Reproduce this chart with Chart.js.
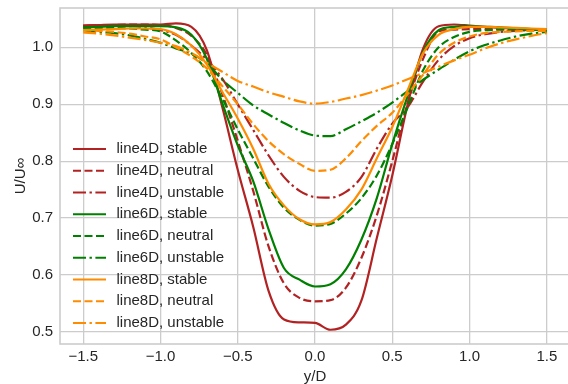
<!DOCTYPE html>
<html>
<head>
<meta charset="utf-8">
<script src="https://cdn.jsdelivr.net/npm/chart.js@4.4.1/dist/chart.umd.min.js"></script>
<style>
  html, body { margin: 0; padding: 0; background: #fff; }
  #wrap { width: 568px; height: 384px; overflow: hidden; }
</style>
</head>
<body>
<div id="wrap"><canvas id="canvas" width="572" height="384"></canvas></div>
<script>
// y/D positions of the profile points
const yD = [-1.5, -1.4, -1.3, -1.2, -1.1, -1.0, -0.9, -0.8, -0.7, -0.6, -0.5, -0.4, -0.3, -0.2, -0.1, 0,
  0.1, 0.2, 0.3, 0.4, 0.5, 0.6, 0.7, 0.8, 0.9, 1.0, 1.1, 1.2, 1.3, 1.4, 1.5];

// U/U_inf
const stable4D = [1.038, 1.039, 1.040, 1.040, 1.040, 1.040, 1.042, 1.036, 0.995, 0.895, 0.785, 0.685, 0.572, 0.522, 0.517, 0.516,
  0.504, 0.513, 0.555, 0.665, 0.775, 0.900, 0.998, 1.037, 1.040, 1.038, 1.036, 1.034, 1.033, 1.032, 1.031];
const neutral4D = [1.037, 1.038, 1.039, 1.040, 1.040, 1.039, 1.034, 1.020, 0.987, 0.918, 0.836, 0.748, 0.650, 0.585, 0.560, 0.554,
  0.556, 0.578, 0.630, 0.705, 0.800, 0.903, 0.980, 1.028, 1.031, 1.032, 1.032, 1.032, 1.032, 1.031, 1.031];
const unstable4D = [1.038, 1.039, 1.039, 1.038, 1.035, 1.030, 1.022, 1.003, 0.978, 0.945, 0.900, 0.855, 0.810, 0.772, 0.748, 0.737,
  0.736, 0.746, 0.772, 0.822, 0.866, 0.895, 0.940, 0.978, 1.002, 1.016, 1.023, 1.027, 1.029, 1.030, 1.031];
const stable6D = [1.035, 1.036, 1.037, 1.037, 1.037, 1.037, 1.035, 1.022, 0.980, 0.902, 0.828, 0.765, 0.680, 0.612, 0.592, 0.580,
  0.584, 0.610, 0.662, 0.735, 0.830, 0.915, 0.992, 1.030, 1.036, 1.037, 1.036, 1.035, 1.033, 1.032, 1.031];
const neutral6D = [1.034, 1.034, 1.034, 1.033, 1.031, 1.028, 1.012, 0.990, 0.958, 0.910, 0.856, 0.805, 0.755, 0.718, 0.697, 0.687,
  0.690, 0.708, 0.735, 0.775, 0.830, 0.895, 0.960, 1.000, 1.018, 1.027, 1.030, 1.031, 1.031, 1.031, 1.031];
const unstable6D = [1.030, 1.027, 1.025, 1.021, 1.015, 1.008, 0.998, 0.989, 0.972, 0.943, 0.920, 0.898, 0.882, 0.867, 0.854, 0.845,
  0.844, 0.856, 0.870, 0.885, 0.903, 0.923, 0.943, 0.961, 0.978, 0.993, 1.004, 1.012, 1.019, 1.024, 1.027];
const stable8D = [1.030, 1.031, 1.032, 1.033, 1.033, 1.032, 1.023, 1.003, 0.970, 0.922, 0.875, 0.822, 0.760, 0.722, 0.698, 0.689,
  0.693, 0.715, 0.750, 0.805, 0.860, 0.925, 0.990, 1.022, 1.032, 1.036, 1.036, 1.035, 1.034, 1.033, 1.032];
const neutral8D = [1.030, 1.029, 1.027, 1.024, 1.019, 1.014, 1.000, 0.984, 0.963, 0.932, 0.900, 0.865, 0.835, 0.812, 0.795, 0.783,
  0.785, 0.805, 0.835, 0.862, 0.885, 0.918, 0.952, 0.988, 1.008, 1.019, 1.025, 1.027, 1.028, 1.029, 1.029];
const unstable8D = [1.026, 1.024, 1.021, 1.017, 1.013, 1.008, 1.002, 0.990, 0.973, 0.957, 0.941, 0.931, 0.921, 0.913, 0.905, 0.901,
  0.904, 0.910, 0.916, 0.924, 0.933, 0.944, 0.955, 0.966, 0.977, 0.987, 0.998, 1.007, 1.014, 1.020, 1.025];

const seriesNames = ["line4D, stable", "line4D, neutral", "line4D, unstable",
  "line6D, stable", "line6D, neutral", "line6D, unstable",
  "line8D, stable", "line8D, neutral", "line8D, unstable"];
const seriesValues = [stable4D, neutral4D, unstable4D, stable6D, neutral6D, unstable6D, stable8D, neutral8D, unstable8D];
const seriesColors = ["#b22222", "#b22222", "#b22222", "#008000", "#008000", "#008000", "#ff8c00", "#ff8c00", "#ff8c00"];
const dashes = [[], [8, 3.5], [13, 3.5, 2.4, 3.5]];

const xTicks = [-1.5, -1.0, -0.5, 0, 0.5, 1.0, 1.5];
const yTicks = [0.5, 0.6, 0.7, 0.8, 0.9, 1.0];

const FONT = "'Liberation Sans', Arial, sans-serif";
const TEXT = "#262626";
const GRID = "#cccccc";

function fmt(v) {
  return Number(v).toFixed(1).replace("-", "\u2212");
}

// matplotlib style legend inside the axes, plus the light frame
const innerLegend = {
  id: "innerLegend",
  afterDraw(chart) {
    const ctx = chart.ctx;
    const a = chart.chartArea;
    ctx.save();
    ctx.strokeStyle = GRID;
    ctx.lineWidth = 1.6;
    ctx.strokeRect(a.left, a.top, a.right - a.left, a.bottom - a.top);
    ctx.font = "15px " + FONT;
    ctx.textBaseline = "middle";
    ctx.textAlign = "left";
    chart.data.datasets.forEach((ds, i) => {
      const y = a.top + 141 + i * 21.75;
      ctx.beginPath();
      ctx.strokeStyle = ds.borderColor;
      ctx.lineWidth = ds.borderWidth;
      ctx.setLineDash(ds.borderDash);
      ctx.moveTo(a.left + 13, y);
      ctx.lineTo(a.left + 46, y);
      ctx.stroke();
      ctx.setLineDash([]);
      ctx.fillStyle = TEXT;
      ctx.fillText(ds.label, a.left + 56.5, y);
    });
    ctx.restore();
  }
};

new Chart("canvas", {
  type: "line",
  data: {
    datasets: seriesValues.map((vals, i) => ({
      label: seriesNames[i],
      data: yD.map((x, j) => ({ x: x, y: vals[j] })),
      borderColor: seriesColors[i],
      backgroundColor: seriesColors[i],
      borderWidth: 2.2,
      borderDash: dashes[i % 3],
      pointRadius: 0,
      fill: false,
      cubicInterpolationMode: "monotone",
      order: -i
    }))
  },
  options: {
    responsive: false,
    animation: false,
    devicePixelRatio: 1,
    layout: { padding: { top: 8, right: 2, left: 0, bottom: 0 } },
    plugins: {
      legend: { display: false },
      tooltip: { enabled: false }
    },
    scales: {
      x: {
        type: "linear",
        min: -1.65,
        max: 1.65,
        afterBuildTicks: (axis) => { axis.ticks = xTicks.map(v => ({ value: v })); },
        afterFit: (axis) => {
          axis.height = 40;
          axis.paddingLeft = 0;
          axis.paddingRight = 0;
        },
        grid: { color: GRID, lineWidth: 1.3, drawTicks: false },
        border: { display: false },
        ticks: {
          padding: 4,
          color: TEXT,
          font: { family: FONT, size: 15 },
          maxRotation: 0,
          callback: (v) => fmt(v)
        },
        title: {
          display: true,
          text: "y/D",
          color: TEXT,
          font: { family: FONT, size: 15, lineHeight: 1 },
          padding: { top: 0, bottom: 0 }
        }
      },
      y: {
        type: "linear",
        min: 0.479,
        max: 1.069,
        afterBuildTicks: (axis) => { axis.ticks = yTicks.map(v => ({ value: v })); },
        afterFit: (axis) => {
          axis.width = 60;
          axis.paddingTop = 0;
          axis.paddingBottom = 0;
        },
        grid: { color: GRID, lineWidth: 1.3, drawTicks: false },
        border: { display: false },
        ticks: {
          padding: 7,
          color: TEXT,
          font: { family: FONT, size: 15 },
          callback: (v) => fmt(v)
        },
        title: {
          display: true,
          text: "U/U\u221E",
          color: TEXT,
          font: { family: FONT, size: 15, lineHeight: 1 },
          padding: { top: 13.5, bottom: 0 }
        }
      }
    }
  },
  plugins: [innerLegend]
});
</script>
</body>
</html>
